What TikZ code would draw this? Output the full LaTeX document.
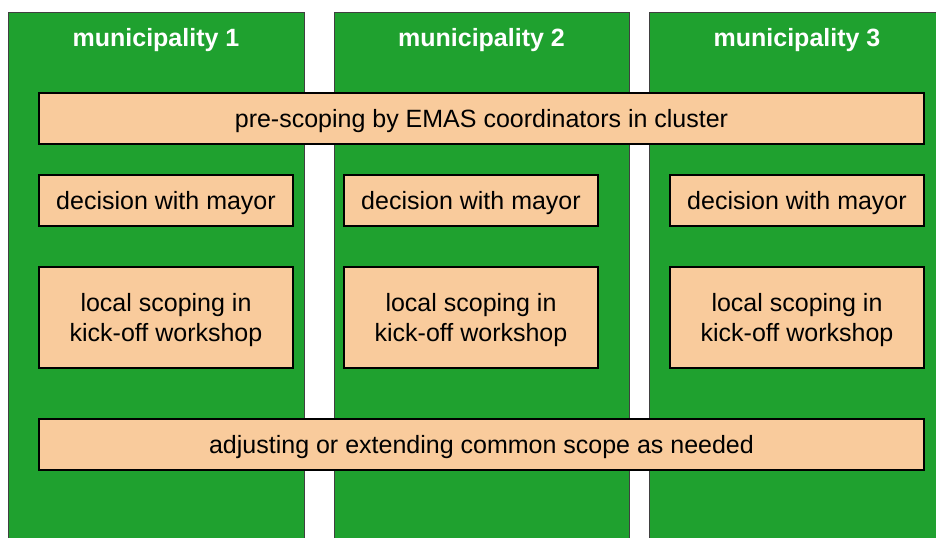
\documentclass[tikz,border=0pt]{standalone}
\usepackage{fontspec}
\setmainfont{Liberation Sans}
\definecolor{colgreen}{RGB}{31,161,47}
\definecolor{peach}{RGB}{249,203,156}
\begin{document}
\begin{tikzpicture}[x=1bp,y=-1bp,
  column/.style={draw=black!75,line width=1bp,fill=colgreen,inner sep=0pt,anchor=north west},
  coltitle/.style={text=white,font=\fontsize{25bp}{30bp}\selectfont\bfseries,inner sep=0pt},
  stagebox/.style={draw=black,line width=1.3bp,fill=peach,inner sep=0pt,align=center,
    text depth=-3bp,font=\fontsize{25bp}{30bp}\selectfont}]
\useasboundingbox (0,0) rectangle (936,538);
\clip (0,0) rectangle (936,538);
% columns
\node[column,minimum width=296bp,minimum height=560bp] (c1) at (8,12) {};
\node[column,minimum width=295bp,minimum height=560bp] (c2) at (334,12) {};
\node[column,minimum width=296bp,minimum height=560bp] (c3) at (649,12) {};
\node[coltitle] (t1) at (156,40) {municipality 1};
\node[coltitle] (t2) at (481.5,40) {municipality 2};
\node[coltitle] (t3) at (797,40) {municipality 3};
% common boxes
\node[stagebox,minimum width=885bp,minimum height=51bp] (pre) at (481.5,118.5) {pre-scoping by EMAS coordinators in cluster};
\node[stagebox,minimum width=885bp,minimum height=51bp] (adj) at (481.5,444.5) {adjusting or extending common scope as needed};
% decision boxes
\node[stagebox,minimum width=254bp,minimum height=51bp] (d1) at (166,200.5) {decision with mayor};
\node[stagebox,minimum width=254bp,minimum height=51bp] (d2) at (471,200.5) {decision with mayor};
\node[stagebox,minimum width=254bp,minimum height=51bp] (d3) at (797,200.5) {decision with mayor};
% local scoping
\node[stagebox,minimum width=254bp,minimum height=101bp] (l1) at (166,317.5) {local scoping in\\kick-off workshop};
\node[stagebox,minimum width=254bp,minimum height=101bp] (l2) at (471,317.5) {local scoping in\\kick-off workshop};
\node[stagebox,minimum width=254bp,minimum height=101bp] (l3) at (797,317.5) {local scoping in\\kick-off workshop};
\end{tikzpicture}
\end{document}
